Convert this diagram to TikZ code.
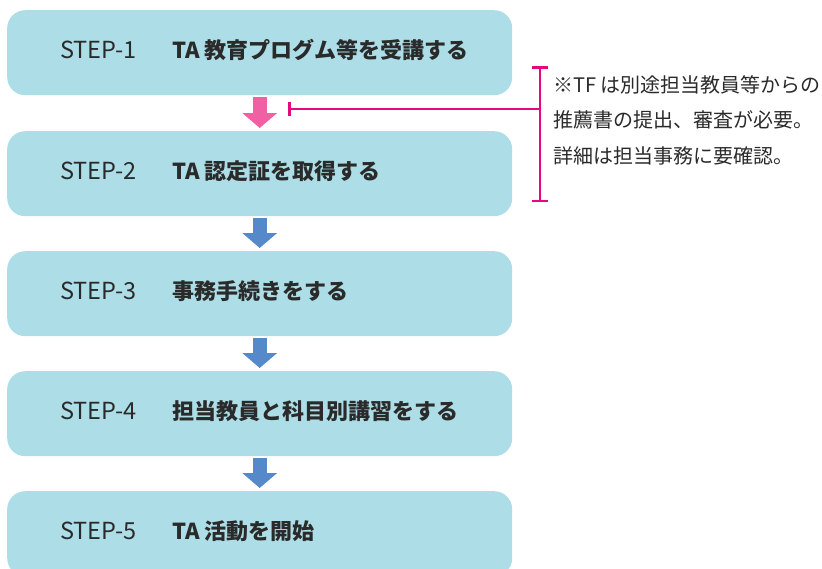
\documentclass[tikz,border=0pt]{standalone}
\usepackage{fontspec}
\setmainfont{Noto Sans CJK JP}
\usetikzlibrary{arrows.meta}
\definecolor{boxfill}{HTML}{ADDEE7}
\definecolor{pinkarr}{HTML}{F160A3}
\definecolor{bluearr}{HTML}{5689C9}
\definecolor{magline}{HTML}{E4097F}
\definecolor{txt}{HTML}{2A2A2A}
\begin{document}
\begin{tikzpicture}[x=1pt,y=-1pt,
  stepbox/.style={draw=none,fill=boxfill,rounded corners=18pt,minimum width=505pt,minimum height=85pt,inner sep=0pt,anchor=north west},
  steplabel/.style={anchor=base west,inner sep=0pt,text=txt,font=\fontsize{23.5}{26}\selectfont},
  steptext/.style={anchor=base west,inner sep=0pt,text=txt,font=\fontsize{22}{24}\selectfont\bfseries},
  flowarrow/.style={line width=14pt,-{Triangle[width=34pt,length=15pt]},shorten <=2pt,shorten >=3pt},
  bracketline/.style={draw=magline,line width=2.5pt},
  notetext/.style={anchor=north west,inner sep=0pt,align=left,text=txt,font=\fontsize{20}{35.5}\selectfont}
]
\useasboundingbox (0,0) rectangle (822,568);
\node[stepbox] (b1) at (7,10) {};
\node[stepbox] (b2) at (7,131) {};
\node[stepbox] (b3) at (7,251) {};
\node[stepbox] (b4) at (7,371) {};
\node[stepbox] (b5) at (7,491) {};
\foreach \i/\t in {1/TA 教育プログム等を受講する,2/TA 認定証を取得する,3/事務手続きをする,4/担当教員と科目別講習をする,5/TA 活動を開始}{
  \node[steplabel] (l\i) at ([xshift=53pt,yshift=-48pt]b\i.north west) {STEP-\i};
  \node[steptext] (t\i) at ([xshift=165pt,yshift=-48pt]b\i.north west) {\t};
}
\draw[flowarrow,draw=pinkarr] (b1.south) -- (b2.north);
\draw[flowarrow,draw=bluearr] (b2.south) -- (b3.north);
\draw[flowarrow,draw=bluearr] (b3.south) -- (b4.north);
\draw[flowarrow,draw=bluearr] (b4.south) -- (b5.north);
\coordinate (brtop) at (540,66);
\coordinate (brbot) at (540,202);
\coordinate (brmid) at (540,109);
\coordinate (ptr) at (288,109);
\draw[bracketline,{Bar[width=16pt]}-{Bar[width=16pt]}] (brtop) -- (brbot);
\draw[bracketline,-{Bar[width=14pt]}] (brmid) -- (ptr);
\node[notetext] (note) at (553,75) {※TF は別途担当教員等からの\\推薦書の提出、審査が必要。\\詳細は担当事務に要確認。};
\end{tikzpicture}
\end{document}
